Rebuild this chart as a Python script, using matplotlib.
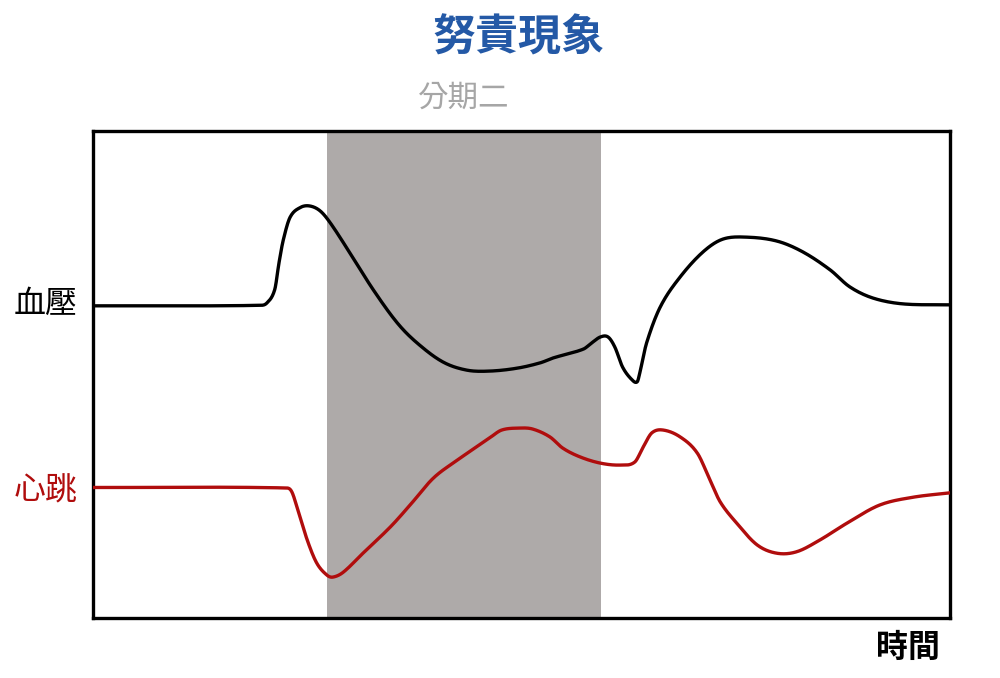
import numpy as np
import matplotlib
matplotlib.use("Agg")
import matplotlib.pyplot as plt

plt.rcParams['font.family'] = ['Noto Sans CJK TC', 'DejaVu Sans']

# ---- data (time 0-100, arbitrary value 0-100) ----
bp_t = [0.0, 19.5, 20.3, 21.2, 21.7, 22.2, 23.0, 24.2, 25.3, 26.5, 27.7, 30.0, 32.7, 35.5,
        37.8, 40.8, 43.6, 46.3, 49.5, 52.2, 53.7, 57.2, 58.2, 59.2, 60.1, 60.9, 61.8, 62.9,
        63.5, 63.8, 64.6, 66.2, 68.5, 71.2, 73.5, 76.3, 79.8, 82.8, 86.0, 88.3, 91.0, 94.5, 100.0]
bp_v = [64.1, 64.2, 64.7, 67.4, 72.9, 77.6, 82.3, 84.3, 84.6, 83.6, 81.1, 74.9, 67.4, 60.6,
        56.5, 52.6, 50.9, 50.7, 51.3, 52.4, 53.4, 55.2, 56.5, 57.7, 57.7, 55.6, 51.5, 48.9,
        48.5, 50.3, 56.5, 63.9, 70.0, 75.2, 77.8, 78.2, 77.4, 75.2, 71.5, 68.0, 65.7, 64.5, 64.3]

hr_t = [0.0, 22.6, 23.2, 23.9, 25.0, 26.1, 27.3, 28.0, 29.2, 31.5, 34.7, 37.0, 39.7, 42.5,
        46.3, 47.7, 49.8, 51.3, 53.3, 54.8, 56.8, 59.2, 61.5, 63.2, 64.2, 65.2, 66.5, 68.5,
        70.5, 72.0, 73.2, 75.1, 77.5, 79.8, 82.1, 84.8, 88.0, 91.8, 95.7, 100.0]
hr_v = [26.8, 26.7, 25.9, 22.2, 16.0, 11.3, 8.8, 8.4, 9.4, 13.3, 18.7, 23.2, 28.7, 32.4,
        37.0, 38.6, 39.0, 38.8, 37.2, 34.9, 33.1, 31.8, 31.4, 32.0, 35.1, 38.0, 38.6, 37.2,
        33.9, 28.3, 23.8, 19.5, 15.0, 13.3, 13.6, 16.0, 19.5, 23.2, 24.8, 25.7]

phase_span = [27.3, 59.3]
phase_label = "分期二"
title = "努責現象"
series_labels = ["血壓", "心跳"]
x_label = "時間"


def smooth(x, y, n=20):
    """Cubic Hermite curve y(x) through the read points (centred-difference tangents)."""
    x = np.asarray(x, float); y = np.asarray(y, float)
    h = np.diff(x); d = np.diff(y) / h
    m = np.zeros_like(y)
    m[1:-1] = (y[2:] - y[:-2]) / (x[2:] - x[:-2])
    m[0] = d[0]; m[-1] = d[-1]
    ox, oy = [], []
    s = np.linspace(0, 1, n, endpoint=False)
    h00 = 2 * s**3 - 3 * s**2 + 1; h10 = s**3 - 2 * s**2 + s
    h01 = -2 * s**3 + 3 * s**2; h11 = s**3 - s**2
    for k in range(len(x) - 1):
        ox.extend(x[k] + s * h[k])
        oy.extend(h00 * y[k] + h10 * h[k] * m[k] + h01 * y[k + 1] + h11 * h[k] * m[k + 1])
    ox.append(x[-1]); oy.append(y[-1])
    return np.array(ox), np.array(oy)


fig = plt.figure(figsize=(10, 6.78), dpi=100)
ax = fig.add_axes([0.093, 0.0885, 0.857, 0.7183])
ax.set_xlim(0, 100)
ax.set_ylim(0, 100)

ax.axvspan(phase_span[0], phase_span[1], color='#aeaaa9', lw=0, zorder=0)

bx, by = smooth(bp_t, bp_v)
hx, hy = smooth(hr_t, hr_v)
ax.plot(bx, by, color='black', lw=2.4, solid_capstyle='round', solid_joinstyle='round', zorder=3)
ax.plot(hx, hy, color='#b00d0d', lw=2.4, solid_capstyle='round', solid_joinstyle='round', zorder=3)

for s in ax.spines.values():
    s.set_linewidth(2.4)
    s.set_color('black')
ax.set_xticks([])
ax.set_yticks([])

fig.text(0.518, 1 - 38 / 678, title, ha='center', va='center', fontsize=31,
         fontweight='bold', color='#2459a6')
fig.text(0.4635, 1 - 98 / 678, phase_label, ha='center', va='center', fontsize=22,
         fontweight='medium', color='#a6a6a6')
fig.text(0.046, 1 - 304 / 678, series_labels[0], ha='center', va='center', fontsize=23,
         fontweight='medium', color='black')
fig.text(0.046, 1 - 490 / 678, series_labels[1], ha='center', va='center', fontsize=23,
         fontweight='medium', color='#b00d0d')
fig.text(0.908, 1 - 648 / 678, x_label, ha='center', va='center', fontsize=23,
         fontweight='bold', color='black')

fig.savefig('out.png', dpi=100, facecolor='white')
